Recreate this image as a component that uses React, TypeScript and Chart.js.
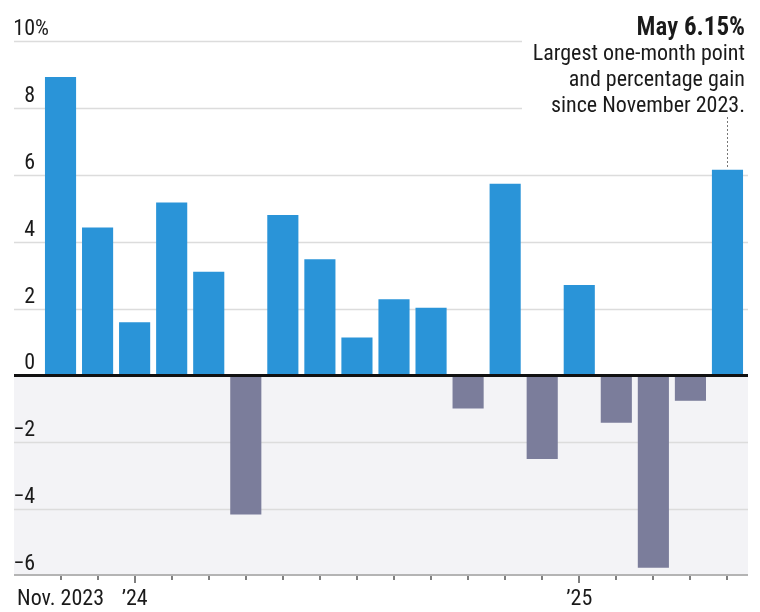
import React, { useEffect, useRef } from "react";
import { Chart, registerables, Plugin } from "chart.js";

Chart.register(...registerables);

// Monthly S&P 500 change, %
const months = [
  "Nov 2023", "Dec 2023", "Jan 2024", "Feb 2024", "Mar 2024", "Apr 2024", "May 2024",
  "Jun 2024", "Jul 2024", "Aug 2024", "Sep 2024", "Oct 2024", "Nov 2024", "Dec 2024",
  "Jan 2025", "Feb 2025", "Mar 2025", "Apr 2025", "May 2025",
];
const changes = [
  8.92, 4.42, 1.59, 5.17, 3.10, -4.16, 4.80, 3.47, 1.13, 2.28, 2.02, -0.99, 5.73, -2.50,
  2.70, -1.42, -5.75, -0.76, 6.15,
];

// Axis text
const yTicks = [10, 8, 6, 4, 2, 0, -2, -4, -6];
const xLabelIndex = [0, 2, 14];
const xLabelText = ["Nov. 2023", "’24", "’25"];
const yearTickIndex = [2, 14];

// Callout
const calloutMonth = "May";
const calloutValue = "6.15%";
const calloutLines = ["Largest one-month point", "and percentage gain", "since November 2023."];
const calloutIndex = 18;

const FONT = '"Liberation Sans Narrow", "Roboto Condensed", "DejaVu Sans Condensed", "Liberation Sans", sans-serif';
const BLUE = "#2a94d8";
const GREY = "#7b7d9b";
const TEXT = "#1a1a1a";

const GRID_LEFT = 14;
const GRID_RIGHT = 748;
const GRID_CUT = 522;

const decorPlugin: Plugin<"bar"> = {
  id: "decor",
  beforeDatasetsDraw(chart) {
    const ctx = chart.ctx;
    const y = chart.scales.y;
    const y0 = y.getPixelForValue(0);
    const yMin = y.getPixelForValue(y.min);
    ctx.save();
    // shaded band below zero
    ctx.fillStyle = "#f3f3f6";
    ctx.fillRect(GRID_LEFT, y0, GRID_RIGHT - GRID_LEFT, yMin - y0);
    // horizontal gridlines
    ctx.strokeStyle = "#dcdcdc";
    ctx.lineWidth = 1.5;
    for (const v of yTicks) {
      if (v === 0 || v === y.min) continue;
      const py = Math.round(y.getPixelForValue(v)) + 0.5;
      const right = v >= 8 ? GRID_CUT : GRID_RIGHT;
      ctx.beginPath();
      ctx.moveTo(GRID_LEFT, py);
      ctx.lineTo(right, py);
      ctx.stroke();
    }
    ctx.restore();
  },
  afterDatasetsDraw(chart) {
    const ctx = chart.ctx;
    const x = chart.scales.x;
    const y = chart.scales.y;
    const y0 = y.getPixelForValue(0);
    const yBottom = y.getPixelForValue(y.min);
    ctx.save();

    // zero line
    ctx.strokeStyle = "#111";
    ctx.lineWidth = 3;
    ctx.beginPath();
    ctx.moveTo(GRID_LEFT, y0);
    ctx.lineTo(GRID_RIGHT, y0);
    ctx.stroke();

    // bottom axis line
    ctx.strokeStyle = "#b4b4b4";
    ctx.lineWidth = 2;
    ctx.beginPath();
    ctx.moveTo(GRID_LEFT, yBottom - 1);
    ctx.lineTo(GRID_RIGHT, yBottom - 1);
    ctx.stroke();

    // month ticks
    ctx.strokeStyle = "#555";
    ctx.lineWidth = 1.5;
    for (let i = 0; i < months.length; i++) {
      const px = Math.round(x.getPixelForValue(i));
      const len = yearTickIndex.includes(i) ? 7 : 4;
      ctx.beginPath();
      ctx.moveTo(px, yBottom);
      ctx.lineTo(px, yBottom + len);
      ctx.stroke();
    }

    // x labels
    ctx.fillStyle = TEXT;
    ctx.font = `22px ${FONT}`;
    ctx.textAlign = "center";
    ctx.textBaseline = "alphabetic";
    xLabelIndex.forEach((idx, k) => {
      ctx.fillText(xLabelText[k], x.getPixelForValue(idx), 605);
    });

    // y labels
    for (const v of yTicks) {
      const py = y.getPixelForValue(v) - 6;
      const s = v < 0 ? "−" + Math.abs(v) : String(v);
      ctx.textAlign = "right";
      ctx.fillText(s, 35, py);
      if (v === 10) {
        ctx.textAlign = "left";
        ctx.fillText("%", 35, py);
      }
    }

    // callout
    const rightX = 745;
    ctx.textAlign = "right";
    ctx.font = `bold 25px ${FONT}`;
    const valW = ctx.measureText(calloutValue).width;
    ctx.fillText(calloutValue, rightX, 35);
    ctx.font = `600 25px ${FONT}`;
    ctx.fillText(calloutMonth + " ", rightX - valW, 35);
    ctx.font = `22px ${FONT}`;
    calloutLines.forEach((line, k) => {
      ctx.fillText(line, rightX, 60 + k * 26);
    });

    // dotted leader to the bar
    const cx = Math.round(x.getPixelForValue(calloutIndex)) + 0.5;
    const top = y.getPixelForValue(changes[calloutIndex]);
    ctx.strokeStyle = "#777";
    ctx.lineWidth = 1;
    ctx.setLineDash([2, 2]);
    ctx.beginPath();
    ctx.moveTo(cx, 117);
    ctx.lineTo(cx, top - 2);
    ctx.stroke();
    ctx.setLineDash([]);

    ctx.restore();
  },
};

export default function App() {
  const canvasRef = useRef<HTMLCanvasElement | null>(null);

  useEffect(() => {
    document.body.style.margin = "0";
    const canvas = canvasRef.current;
    if (!canvas) return;
    const chart = new Chart(canvas, {
      type: "bar",
      data: {
        labels: months,
        datasets: [
          {
            data: changes,
            backgroundColor: changes.map((v) => (v >= 0 ? BLUE : GREY)),
            borderWidth: 0,
            categoryPercentage: 1,
            barPercentage: 0.84,
          },
        ],
      },
      options: {
        responsive: false,
        animation: false,
        layout: { padding: { left: 42, right: 14, top: 41, bottom: 36 } },
        plugins: {
          legend: { display: false },
          tooltip: { enabled: false },
        },
        scales: {
          x: { display: false, offset: true },
          y: { display: false, min: -6, max: 10 },
        },
      },
      plugins: [decorPlugin],
    });
    return () => chart.destroy();
  }, []);

  return (
    <div style={{ position: "absolute", left: 0, top: 0, width: 760, height: 612, background: "#fff" }}>
      <canvas ref={canvasRef} width={760} height={612} style={{ display: "block" }} />
    </div>
  );
}
